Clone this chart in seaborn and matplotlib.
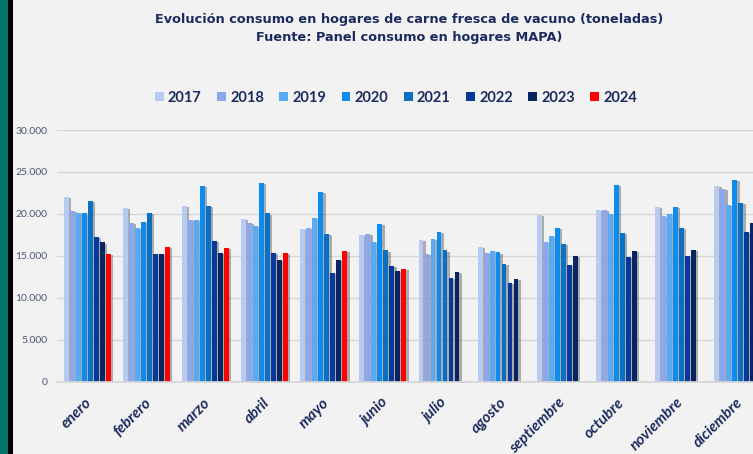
import numpy as np
import pandas as pd
import seaborn as sns
import matplotlib
matplotlib.use("Agg")
import matplotlib.pyplot as plt
import matplotlib.patheffects as pe
import matplotlib.transforms as mtransforms
from matplotlib.patches import Rectangle

meses = ["enero", "febrero", "marzo", "abril", "mayo", "junio", "julio",
         "agosto", "septiembre", "octubre", "noviembre", "diciembre"]
anios = ["2017", "2018", "2019", "2020", "2021", "2022", "2023", "2024"]

v2017 = [22000, 20700, 21000, 19450, 18200, 17500, 16900, 16050, 19850, 20450, 20800, 23350]
v2018 = [20350, 18950, 19300, 18950, 18350, 17600, 15250, 15300, 16650, 20450, 19750, 23000]
v2019 = [20150, 18350, 19300, 18600, 19500, 16650, 17000, 15550, 17350, 20000, 20000, 21100]
v2020 = [20050, 19000, 23350, 23650, 22600, 18850, 17900, 15400, 18350, 23450, 20850, 24000]
v2021 = [21550, 20100, 21000, 20050, 17650, 15650, 15650, 14000, 16450, 17750, 18350, 21300]
v2022 = [17300, 15200, 16800, 15300, 12950, 13750, 12350, 11750, 13900, 14850, 15000, 17850]
v2023 = [16600, 15200, 15300, 14500, 14500, 13150, 13100, 12200, 14950, 15600, 15700, 18900]
v2024 = [15250, 16100, 15950, 15350, 15550, 13450]

series = [v2017, v2018, v2019, v2020, v2021, v2022, v2023, v2024]
colores = ["#b7caf4", "#8ba8ee", "#56aaf6", "#0c8cef", "#0b70c3", "#08399a", "#0a2462", "#ff0000"]

rows = []
for anio, vals in zip(anios, series):
    for mes, v in zip(meses, vals):
        rows.append({"mes": mes, "anio": anio, "valor": v})
df = pd.DataFrame(rows)

sns.set_theme(style="white")
navy = "#1c2b5e"

fig = plt.figure(figsize=(7.53, 4.54), dpi=100, facecolor="#f2f2f2")
ax = fig.add_axes([57 / 753, (454 - 381.7) / 454, 1 - 57 / 753, (381.7 - 130) / 454])
ax.set_facecolor("#f2f2f2")

sns.barplot(data=df, x="mes", y="valor", hue="anio", order=meses, hue_order=anios,
            palette=colores, errorbar=None, width=0.81, gap=0.2, saturation=1,
            ax=ax, legend=False)

for p in ax.patches:
    p.set_linewidth(0)
    p.set_path_effects([pe.SimplePatchShadow(offset=(1.8, -0.8), shadow_rgbFace="#555555", alpha=0.45),
                        pe.Normal()])

ax.set_ylim(0, 30000)
ax.set_xlim(-0.51, 11.26)
ax.set_yticks(range(0, 30001, 5000))
ax.set_yticklabels(["0" if t == 0 else f"{t//1000}.000" for t in range(0, 30001, 5000)],
                   fontsize=7.5, color="#4d5874", family="Lato")
ax.yaxis.grid(True, color="#d6d6d6", linewidth=1)
ax.set_axisbelow(True)
for s in ["left", "right", "top"]:
    ax.spines[s].set_visible(False)
ax.spines["bottom"].set_color("#d6d6d6")
ax.tick_params(axis="y", length=0, pad=7)
ax.tick_params(axis="x", length=0, pad=2)
ax.set_xlabel("")
ax.set_ylabel("")
ax.set_xticks(range(12))
ax.set_xticklabels(meses, rotation=45, ha="right", rotation_mode="anchor",
                   fontsize=11, fontweight="bold", fontstyle="italic", color=navy, family="Lato")
off = mtransforms.ScaledTranslation(-1.5 / 72, -8 / 72, fig.dpi_scale_trans)
for lbl in ax.get_xticklabels():
    lbl.set_transform(lbl.get_transform() + off)

fig.text(409 / 753, 1 - 19 / 454, "Evolución consumo en hogares de carne fresca de vacuno (toneladas)",
         ha="center", va="center", fontsize=9.25, fontweight="bold", color=navy, family="DejaVu Sans")
fig.text(409 / 753, 1 - 38 / 454, "Fuente: Panel consumo en hogares MAPA)",
         ha="center", va="center", fontsize=9.25, fontweight="bold", color=navy, family="DejaVu Sans")

handles = [Rectangle((0, 0), 1, 1, facecolor=c, edgecolor="none") for c in colores]
leg = fig.legend(handles, anios, loc="center", bbox_to_anchor=(396 / 753, 1 - 98 / 454), ncol=8,
                 frameon=False, handlelength=0.6, handleheight=0.6, handletextpad=0.3,
                 columnspacing=1.05, prop={"family": "Lato", "weight": "bold", "size": 10.5})
for t in leg.get_texts():
    t.set_color(navy)

fig.patches.append(Rectangle((0, 0), 7.5 / 753, 1, transform=fig.transFigure, facecolor="#007468",
                             edgecolor="none", zorder=10))
fig.patches.append(Rectangle((7.5 / 753, 0), 5.5 / 753, 1, transform=fig.transFigure, facecolor="#000000",
                             edgecolor="none", zorder=10))

fig.savefig("out.png", dpi=100, facecolor=fig.get_facecolor())
